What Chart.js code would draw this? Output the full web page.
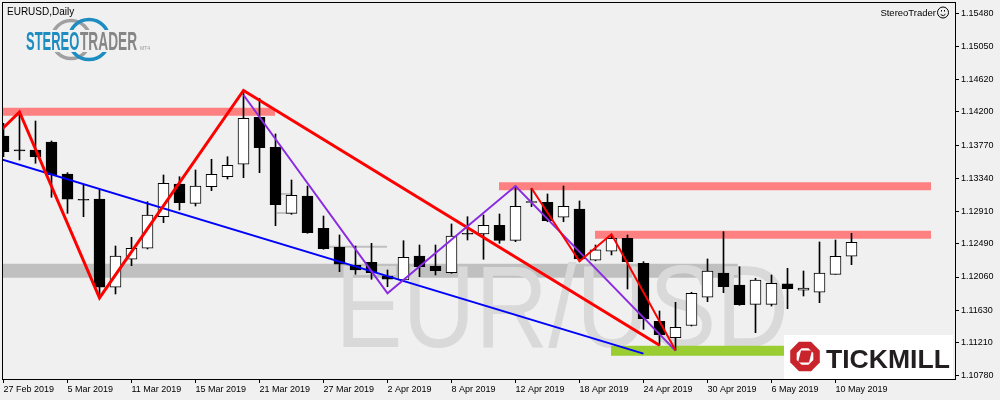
<!DOCTYPE html>
<html><head><meta charset="utf-8">
<script src="https://cdn.jsdelivr.net/npm/chart.js@4.4.1/dist/chart.umd.min.js"></script>
<style>html,body{margin:0;padding:0;background:#f0f0f0;}canvas{display:block;}</style>
</head><body>
<canvas id="c" width="1000" height="400"></canvas>
<script>
// ---- data (EURUSD daily) ----
const dates = ["27 Feb 2019","28 Feb 2019","1 Mar 2019","4 Mar 2019","5 Mar 2019","6 Mar 2019","7 Mar 2019","8 Mar 2019",
"11 Mar 2019","12 Mar 2019","13 Mar 2019","14 Mar 2019","15 Mar 2019","18 Mar 2019","19 Mar 2019","20 Mar 2019","21 Mar 2019","22 Mar 2019",
"25 Mar 2019","26 Mar 2019","27 Mar 2019","28 Mar 2019","29 Mar 2019","1 Apr 2019","2 Apr 2019","3 Apr 2019","4 Apr 2019","5 Apr 2019",
"8 Apr 2019","9 Apr 2019","10 Apr 2019","11 Apr 2019","12 Apr 2019","15 Apr 2019","16 Apr 2019","17 Apr 2019","18 Apr 2019","19 Apr 2019",
"22 Apr 2019","23 Apr 2019","24 Apr 2019","25 Apr 2019","26 Apr 2019","29 Apr 2019","30 Apr 2019","1 May 2019","2 May 2019","3 May 2019",
"6 May 2019","7 May 2019","8 May 2019","9 May 2019","10 May 2019","13 May 2019"];
const opens  = [1.13889,1.13702,1.13707,1.13811,1.13396,1.13062,1.13072,1.11927,1.12290,1.12433,1.12842,1.13266,1.13016,1.13231,1.13361,1.13522,1.14131,1.13742,1.12886,1.13111,1.12692,1.12446,1.12212,1.12251,1.12073,1.12021,1.12333,1.12203,1.12116,1.12622,1.12618,1.12731,1.12536,1.13032,1.13029,1.12835,1.12942,1.12277,1.12394,1.12562,1.12238,1.11486,1.11273,1.11431,1.11797,1.12112,1.11957,1.11706,1.11706,1.11970,1.11888,1.11862,1.12095,1.12329];
const highs  = [1.14054,1.14200,1.14083,1.13824,1.13413,1.13253,1.13189,1.12462,1.12575,1.13037,1.13383,1.13361,1.13448,1.13587,1.13620,1.14480,1.14378,1.13915,1.13318,1.13240,1.12851,1.12605,1.12462,1.12497,1.12151,1.12531,1.12475,1.12475,1.12748,1.12842,1.12864,1.12877,1.13240,1.13211,1.13137,1.13240,1.13046,1.12475,1.12605,1.12605,1.12259,1.11619,1.11732,1.11862,1.12294,1.12648,1.12194,1.12044,1.12086,1.12173,1.12138,1.12514,1.12540,1.12627];
const lows   = [1.13620,1.13578,1.13535,1.13094,1.12886,1.12842,1.11790,1.11840,1.12207,1.12424,1.12765,1.12929,1.12981,1.13180,1.13331,1.13348,1.13413,1.12726,1.12873,1.12627,1.12420,1.12129,1.12095,1.12031,1.11935,1.11999,1.12064,1.12086,1.12108,1.12540,1.12290,1.12497,1.12518,1.12972,1.12777,1.12777,1.12265,1.12270,1.12346,1.11905,1.11382,1.11175,1.11110,1.11425,1.11740,1.11857,1.11693,1.11338,1.11684,1.11649,1.11814,1.11727,1.12095,1.12220];
const closes = [1.13685,1.13695,1.13620,1.13383,1.13068,1.13056,1.11927,1.12333,1.12433,1.12864,1.13275,1.13024,1.13240,1.13392,1.13509,1.14118,1.13737,1.12998,1.13120,1.12635,1.12427,1.12225,1.12151,1.12116,1.12031,1.12316,1.12194,1.12142,1.12592,1.12615,1.12731,1.12536,1.12977,1.13026,1.12790,1.12977,1.12294,1.12411,1.12562,1.12259,1.11520,1.11312,1.11408,1.11849,1.12138,1.11935,1.11701,1.12021,1.11979,1.11909,1.11918,1.12112,1.12329,1.12510];
const tickDates = ["27 Feb 2019","5 Mar 2019","11 Mar 2019","15 Mar 2019","21 Mar 2019","27 Mar 2019","2 Apr 2019","8 Apr 2019","12 Apr 2019","18 Apr 2019","24 Apr 2019","30 Apr 2019","6 May 2019","10 May 2019"];
const priceTicks = [1.15480,1.15050,1.14620,1.14200,1.13770,1.13340,1.12910,1.12490,1.12060,1.11630,1.11210,1.10780];

// zones / drawn lines: x in candle index, y in price
const redZoneA   = {x: [-0.1, 16.97], y: 1.14202};
const redZoneB   = {x: [30.97, 57.97], y: 1.13236};
const redZoneC   = {x: [36.97, 57.97], y: 1.12607};
const grayZone   = {x: [-0.1, 45.9],   y: 1.12140};
const greenZone  = {x: [37.97, 48.78], y: 1.11103};
const grayLevelA = {x: [20.34, 23.97], y: 1.12453};
const grayLevelB = {x: [17.09, 18.03], y: 1.13137};
const grayLevelC = {x: [17.09, 18.03], y: 1.12890};
const zigzagX = [-0.1, 1, 6, 15, 41];
const zigzagY = [1.13976, 1.14200, 1.11790, 1.14480, 1.11175];
const thinRedX = [33, 36, 38, 42];
const thinRedY = [1.13211, 1.12265, 1.12614, 1.11110];
const purpleX = [15, 24, 32, 42];
const purpleY = [1.14420, 1.11849, 1.13240, 1.11105];
const blueX = [-0.1, 40];
const blueY = [1.13584, 1.11066];

// ---- chart ----
const idx = dates.map((_, i) => i);
const tickIdx = tickDates.map(d => dates.indexOf(d));
const pts = (xs, ys) => xs.map((x, i) => ({x, y: ys[i]}));
const seg = (z) => pts(z.x, [z.y, z.y]);
const lineDS = (data, color, width, order) => ({type: 'line', data, borderColor: color, borderWidth: width,
  pointRadius: 0, tension: 0, fill: false, order, clip: 0, borderCapStyle: 'butt', borderJoinStyle: 'miter'});

const datasets = [
  lineDS(seg(grayZone), '#c0c0c0', 14, 30),          // 0
  lineDS(seg(grayLevelA), '#c0c0c0', 2, 29),
  lineDS(seg(grayLevelB), '#c0c0c0', 2, 29),
  lineDS(seg(grayLevelC), '#c0c0c0', 2, 29),
  lineDS(seg(redZoneA), '#ff8080', 8, 25),
  lineDS(seg(redZoneB), '#ff8080', 8, 25),
  lineDS(seg(redZoneC), '#ff8080', 8, 25),
  lineDS(seg(greenZone), '#9acd32', 10, 25),
  {type: 'bar', data: idx.map(i => ({x: i, y: [lows[i], highs[i]]})), backgroundColor: '#000',
    barThickness: 1, grouped: false, order: 12, clip: 0, minBarLength: 1},
  {type: 'bar', data: idx.map(i => ({x: i, y: [opens[i], closes[i]]})),
    backgroundColor: idx.map(i => closes[i] > opens[i] ? '#ffffff' : '#000000'),
    borderColor: '#000', borderWidth: 1, borderSkipped: false, barThickness: 11, grouped: false,
    order: 11, clip: 0, minBarLength: 1},
  lineDS(pts(blueX, blueY), '#0000ff', 2, 4),
  lineDS(pts(zigzagX, zigzagY), '#ff0000', 3, 3),
  lineDS(pts(purpleX, purpleY), '#8a2be2', 2, 2),
  lineDS(pts(thinRedX, thinRedY), '#ff0000', 2, 1),
];

const FONT = "'Liberation Sans', Arial, sans-serif";

const decor = {
  id: 'decor',
  afterDatasetDraw(chart, args) {
    if (args.index !== 0) return;
    const ctx = chart.ctx, a = chart.chartArea;
    ctx.save();
    ctx.beginPath(); ctx.rect(a.left, a.top, a.right - a.left, a.bottom - a.top); ctx.clip();
    ctx.font = "116px " + FONT;
    const t = 'EUR/USD';
    const m = ctx.measureText(t);
    const w = m.actualBoundingBoxRight + m.actualBoundingBoxLeft;
    const sx = 442 / w;
    ctx.translate(343, 347);
    ctx.scale(sx, 1);
    ctx.fillStyle = '#d9d9d9';
    ctx.textBaseline = 'alphabetic';
    ctx.fillText(t, m.actualBoundingBoxLeft, 0);
    ctx.restore();
  },
  afterDraw(chart) {
    const ctx = chart.ctx, a = chart.chartArea;
    ctx.save();
    // frame
    ctx.strokeStyle = '#000'; ctx.lineWidth = 1;
    ctx.strokeRect(a.left + 0.5, a.top + 0.5, a.right - a.left, a.bottom - a.top);
    // title
    ctx.fillStyle = '#000';
    ctx.font = "10px " + FONT;
    ctx.textBaseline = 'alphabetic';
    ctx.textAlign = 'left';
    ctx.fillText('EURUSD,Daily', 7, 15);
    ctx.font = "9.5px " + FONT;
    ctx.textAlign = 'right';
    ctx.fillText('StereoTrader', 936, 16);
    // smiley
    ctx.beginPath(); ctx.arc(943, 12.5, 5.5, 0, Math.PI * 2); ctx.stroke();
    ctx.beginPath(); ctx.arc(943, 12.5, 3, 0.2 * Math.PI, 0.8 * Math.PI); ctx.stroke();
    ctx.fillRect(941, 10, 1, 1.5); ctx.fillRect(944, 10, 1, 1.5);

    // StereoTrader logo
    ctx.lineWidth = 3.5;
    ctx.strokeStyle = '#a0a0a0';
    ctx.beginPath(); ctx.arc(71, 39.5, 19, 0, Math.PI * 2); ctx.stroke();
    ctx.strokeStyle = '#1d8cc0';
    ctx.beginPath(); ctx.arc(89, 39.5, 20, 0, Math.PI * 2); ctx.stroke();
    ctx.fillStyle = '#f0f0f0';
    ctx.fillRect(45, 30, 70, 22);
    ctx.textAlign = 'left';
    ctx.font = "bold 25px " + FONT;
    const drawFit = (txt, x, y, w, color) => {
      const mm = ctx.measureText(txt);
      const ww = mm.actualBoundingBoxRight + mm.actualBoundingBoxLeft;
      ctx.save(); ctx.translate(x, y); ctx.scale(w / ww, 1);
      ctx.fillStyle = color; ctx.fillText(txt, mm.actualBoundingBoxLeft, 0); ctx.restore();
    };
    drawFit('STEREO', 26, 50, 53, '#1d8cc0');
    drawFit('TRADER', 80, 50, 57, '#868686');
    ctx.font = "5px " + FONT;
    ctx.fillStyle = '#999';
    ctx.fillText('MT4', 140, 50);

    // Tickmill badge
    ctx.fillStyle = '#ffffff';
    ctx.fillRect(784, 335, 169, a.bottom - 335);
    const cx = 805, cy = 356.5, R = 16;
    ctx.fillStyle = '#c9242b';
    ctx.beginPath();
    for (let i = 0; i < 8; i++) {
      const ang = Math.PI / 8 + i * Math.PI / 4;
      const px = cx + R * Math.cos(ang), py = cy + R * Math.sin(ang);
      i ? ctx.lineTo(px, py) : ctx.moveTo(px, py);
    }
    ctx.closePath(); ctx.fill();
    ctx.fillStyle = '#ffffff';
    ctx.beginPath();
    for (let i = 0; i < 8; i++) {
      const ang = Math.PI / 8 + i * Math.PI / 4;
      const px = cx + 9 * Math.cos(ang), py = cy + 9 * Math.sin(ang);
      i ? ctx.lineTo(px, py) : ctx.moveTo(px, py);
    }
    ctx.closePath(); ctx.fill();
    ctx.beginPath();
    ctx.moveTo(cx + 4, cy - 17); ctx.lineTo(cx + 17, cy - 17); ctx.lineTo(cx + 17, cy - 4); ctx.closePath(); ctx.fill();
    ctx.beginPath();
    ctx.moveTo(cx - 4, cy + 17); ctx.lineTo(cx - 17, cy + 17); ctx.lineTo(cx - 17, cy + 4); ctx.closePath(); ctx.fill();
    ctx.fillStyle = '#c9242b';
    ctx.beginPath();
    ctx.moveTo(cx - 4, cy - 6); ctx.lineTo(cx + 7, cy - 6); ctx.lineTo(cx + 4, cy + 6); ctx.lineTo(cx - 7, cy + 6); ctx.closePath(); ctx.fill();
    ctx.font = "bold 26px " + FONT;
    drawFit('TICKMILL', 826, 368, 124, '#231f20');
    ctx.restore();
  }
};

new Chart(document.getElementById('c'), {
  type: 'bar',
  data: {datasets},
  options: {
    responsive: false, animation: false, events: [],
    layout: {padding: {left: 2, top: 2, right: 0, bottom: 0}},
    plugins: {legend: {display: false}, tooltip: {enabled: false}},
    scales: {
      x: {
        type: 'linear', min: -0.09375, max: 59.46875, offset: false,
        afterBuildTicks: s => { s.ticks = tickIdx.map(v => ({value: v})); },
        afterFit: s => { s.height = 21; s.paddingLeft = 0; s.paddingRight = 0; },
        grid: {drawOnChartArea: false, drawTicks: true, tickLength: 4, color: '#000', offset: false},
        border: {display: false},
        ticks: {autoSkip: false, maxRotation: 0, minRotation: 0, align: 'start', padding: 1, color: '#000',
          font: {family: FONT, size: 9}, callback: v => dates[v]}
      },
      y: {
        type: 'linear', position: 'right', min: 1.107374, max: 1.156265,
        afterBuildTicks: s => { s.ticks = priceTicks.map(v => ({value: v})); },
        afterFit: s => { s.width = 45; s.paddingTop = 0; s.paddingBottom = 0; },
        grid: {drawOnChartArea: false, drawTicks: true, tickLength: 4, color: '#000'},
        border: {display: false},
        ticks: {padding: 2, color: '#000', font: {family: FONT, size: 9}, callback: v => v.toFixed(5)}
      }
    }
  },
  plugins: [decor]
});
</script>
</body></html>
